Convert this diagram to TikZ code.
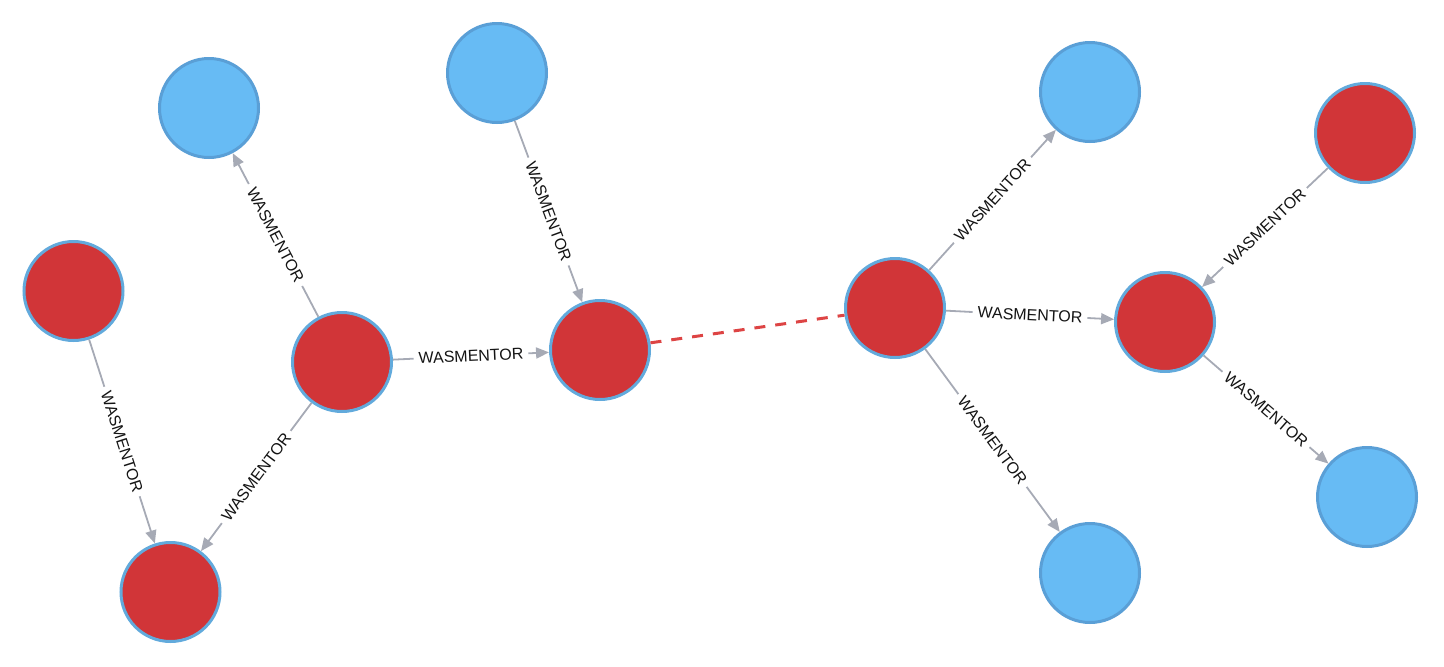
\documentclass[tikz,border=0pt]{standalone}
\usepackage{fontspec}
\setmainfont{Liberation Sans}
\usetikzlibrary{arrows.meta}
\definecolor{redfill}{HTML}{D13538}
\definecolor{redborder}{HTML}{62AADC}
\definecolor{bluefill}{HTML}{67BBF4}
\definecolor{blueborder}{HTML}{5A9FD6}
\definecolor{edgegray}{HTML}{A6AAB5}
\definecolor{dashred}{HTML}{DD4444}
\begin{document}
\begin{tikzpicture}[x=1pt,y=-1pt,
  rednode/.style={circle,fill=redfill,draw=redborder,line width=3pt,minimum size=99pt,inner sep=0pt},
  bluenode/.style={circle,fill=bluefill,draw=blueborder,line width=3pt,minimum size=99pt,inner sep=0pt},
  rel/.style={draw=edgegray,line width=1.8pt,-{Triangle[length=13pt,width=11pt]}},
  rellabel/.style={midway,sloped,fill=white,inner xsep=5pt,inner ysep=1pt,font=\fontsize{16}{17}\selectfont,text=black!92},
  link/.style={draw=dashred,line width=3pt,dash pattern=on 11pt off 10pt}]
\useasboundingbox (0,0) rectangle (1444,667);
\node[bluenode] (b1) at (209,108) {};
\node[bluenode] (b2) at (497,73) {};
\node[rednode] (r1) at (73.5,291) {};
\node[rednode] (r2) at (342,362) {};
\node[rednode] (r3) at (170.5,592) {};
\node[rednode] (r4) at (600,350) {};
\node[rednode] (r5) at (895,308) {};
\node[bluenode] (b3) at (1090,92) {};
\node[rednode] (r6) at (1365,133) {};
\node[rednode] (r7) at (1165,322) {};
\node[bluenode] (b4) at (1090,573) {};
\node[bluenode] (b5) at (1367,497) {};
\path[rel] (r2) -- node[rellabel] {WASMENTOR} (b1);
\path[rel] (b2) -- node[rellabel] {WASMENTOR} (r4);
\path[rel] (r2) -- node[rellabel] {WASMENTOR} (r4);
\path[rel] (r2) -- node[rellabel] {WASMENTOR} (r3);
\path[rel] (r1) -- node[rellabel] {WASMENTOR} (r3);
\path[rel] (r5) -- node[rellabel] {WASMENTOR} (b3);
\path[rel] (r5) -- node[rellabel] {WASMENTOR} (r7);
\path[rel] (r5) -- node[rellabel] {WASMENTOR} (b4);
\path[rel] (r6) -- node[rellabel] {WASMENTOR} (r7);
\path[rel] (r7) -- node[rellabel] {WASMENTOR} (b5);
\path[link] (r4) -- (r5);
\end{tikzpicture}
\end{document}
